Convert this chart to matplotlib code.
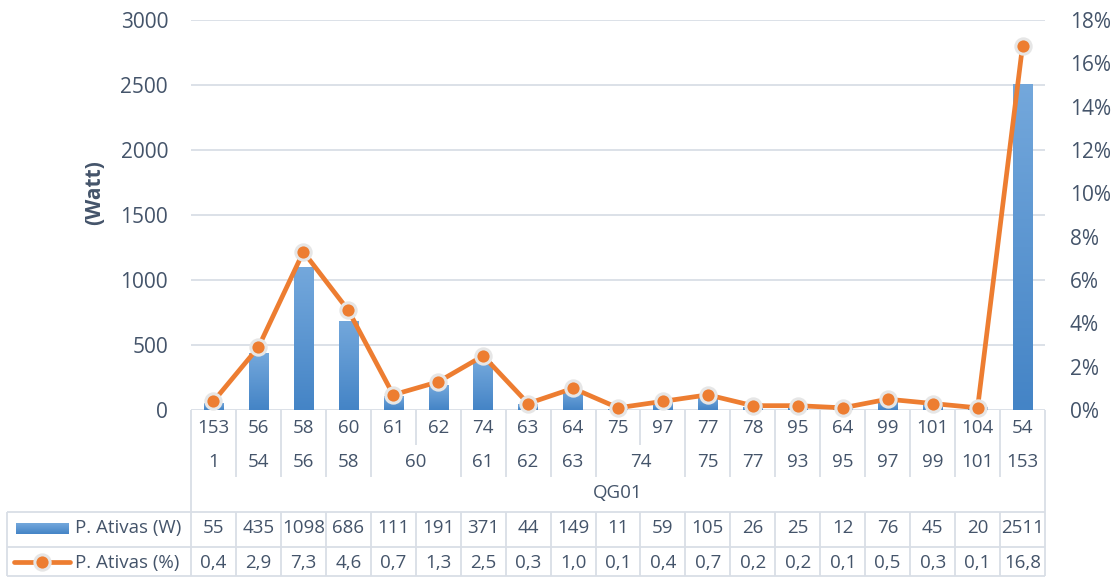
import matplotlib
matplotlib.use('Agg')
import matplotlib.pyplot as plt
import numpy as np
from matplotlib.transforms import Affine2D, blended_transform_factory
from matplotlib.colors import LinearSegmentedColormap

# ---------------- data ----------------
level1 = ['153', '56', '58', '60', '61', '62', '74', '63', '64', '75',
          '97', '77', '78', '95', '64', '99', '101', '104', '54']
level2 = ['1', '54', '56', '58', '60', '60', '61', '62', '63', '74',
          '74', '75', '77', '93', '95', '97', '99', '101', '153']
group_label = 'QG01'
power_w = [55, 435, 1098, 686, 111, 191, 371, 44, 149, 11,
           59, 105, 26, 25, 12, 76, 45, 20, 2511]
power_pct = [0.4, 2.9, 7.3, 4.6, 0.7, 1.3, 2.5, 0.3, 1.0, 0.1,
             0.4, 0.7, 0.2, 0.2, 0.1, 0.5, 0.3, 0.1, 16.8]
series_w_label = 'P. Ativas (W)'
series_pct_label = 'P. Ativas (%)'
y_label = '(Watt)'
left_ticks = [0, 500, 1000, 1500, 2000, 2500, 3000]
right_ticks = [0, 2, 4, 6, 8, 10, 12, 14, 16, 18]

# ---------------- style ----------------
plt.rcParams['font.family'] = ['Open Sans', 'DejaVu Sans']
TXT = '#44546A'
GRID = '#D9DEE6'
ORANGE = '#ED7D31'
BLUE_TOP = '#74A8DC'
BLUE_BOT = '#4484C6'

W, H = 1115, 577
fig = plt.figure(figsize=(W / 100, H / 100), dpi=100)
L, R, T, B = 191, 1045, 20, 410
ax = fig.add_axes([L / W, 1 - B / H, (R - L) / W, (B - T) / H])
n = len(power_w)
x = np.arange(n)

# pixel transform (origin top-left)
tpix = Affine2D().scale(1 / W, -1 / H).translate(0, 1) + fig.transFigure
tx = blended_transform_factory(ax.transData, tpix)

# bars with vertical gradient
cmap = LinearSegmentedColormap.from_list('g', [BLUE_BOT, BLUE_TOP])
bw = 0.43
bars = ax.bar(x, power_w, width=bw, color='#5B9BD5', zorder=2)
grad = np.linspace(0, 1, 256).reshape(-1, 1)
for b in bars:
    x0, h = b.get_x(), b.get_height()
    im = ax.imshow(grad, extent=[x0, x0 + b.get_width(), 0, h], origin='lower',
                   aspect='auto', cmap=cmap, zorder=2.1)
    im.set_clip_path(b)

ax.set_xlim(-0.5, n - 0.5)
ax.set_ylim(0, 3000)
ax.set_yticks(left_ticks)
ax.set_xticks([])
ax.grid(axis='y', color=GRID, lw=1.3, zorder=0)
ax.set_axisbelow(True)
for s in ax.spines.values():
    s.set_visible(False)
ax.tick_params(axis='y', length=0, pad=16.5, labelsize=15, labelcolor=TXT)
ax.set_ylabel(y_label, fontsize=15, fontweight='bold', color=TXT)
ax.yaxis.set_label_coords((105 - L) / (R - L), (B - 193) / (B - T))

# line on secondary axis
ax2 = ax.twinx()
ax2.plot(x, power_pct, color=ORANGE, lw=3.4, marker='o', ms=11,
         mfc=ORANGE, mec='#E6E6E6', mew=2.2, clip_on=False, zorder=3,
         solid_capstyle='round')
ax2.set_ylim(0, 18)
ax2.set_yticks(right_ticks)
ax2.set_yticklabels([f'{t}%' for t in right_ticks])
for s in ax2.spines.values():
    s.set_visible(False)
ax2.tick_params(axis='y', length=0, pad=18, labelsize=15, labelcolor=TXT)
ax2.set_xlim(-0.5, n - 0.5)

# ---------------- category axis / data table ----------------
lk = dict(color=GRID, lw=1.3, solid_capstyle='butt')
ft = dict(fontsize=13.5, color=TXT, ha='center', va='center')

def vline_data(xd, y0, y1):
    fig.add_artist(plt.Line2D([xd, xd], [y0, y1], transform=tx, **lk))

def hline_pix(x0, x1, y):
    fig.add_artist(plt.Line2D([x0, x1], [y, y], transform=tpix, **lk))

ROW1, ROW2, ROW3, TB1, TB2, BOT = 428, 462, 493, 528, 563, 576
# outer verticals
vline_data(-0.5, B, BOT)
vline_data(n - 0.5, B, BOT)
# category boundaries
for k in range(1, n):
    merged = level2[k] == level2[k - 1]
    vline_data(k - 0.5, B, 445 if merged else 477)
    vline_data(k - 0.5, 512, BOT)
# horizontal table lines
hline_pix(7, R, 512)
hline_pix(7, R, 547)
hline_pix(7, R, BOT)
fig.add_artist(plt.Line2D([7, 7], [512, BOT], transform=tpix, **lk))

# level 1 labels
for i, t in enumerate(level1):
    fig.text(i, ROW1, t, transform=tx, **ft)
# level 2 labels (merged runs)
i = 0
while i < n:
    j = i
    while j + 1 < n and level2[j + 1] == level2[i]:
        j += 1
    fig.text((i + j) / 2, ROW2, level2[i], transform=tx, **ft)
    i = j + 1
# level 3
fig.text((n - 1) / 2, ROW3, group_label, transform=tx, **ft)

# table values
for i, v in enumerate(power_w):
    fig.text(i, TB1, f'{v}', transform=tx, **ft)
for i, v in enumerate(power_pct):
    fig.text(i, TB2, f'{v:.1f}'.replace('.', ','), transform=tx, **ft)

# legend keys
kax = fig.add_axes([16 / W, 1 - 534 / H, 53 / W, 11 / H])
kax.imshow(grad, extent=[0, 1, 0, 1], origin='lower', aspect='auto', cmap=cmap)
kax.set_axis_off()
fig.add_artist(plt.Line2D([14, 70], [562, 562], transform=tpix, color=ORANGE,
                          lw=3.4, solid_capstyle='round'))
fig.add_artist(plt.Line2D([42], [562], transform=tpix, marker='o', ms=11,
                          mfc=ORANGE, mec='#E6E6E6', mew=2.2, lw=0))
fig.text(75, TB1, series_w_label, transform=tpix, fontsize=13.5, color=TXT,
         ha='left', va='center')
fig.text(75, TB2, series_pct_label, transform=tpix, fontsize=13.5, color=TXT,
         ha='left', va='center')

fig.savefig('out.png', dpi=100)
